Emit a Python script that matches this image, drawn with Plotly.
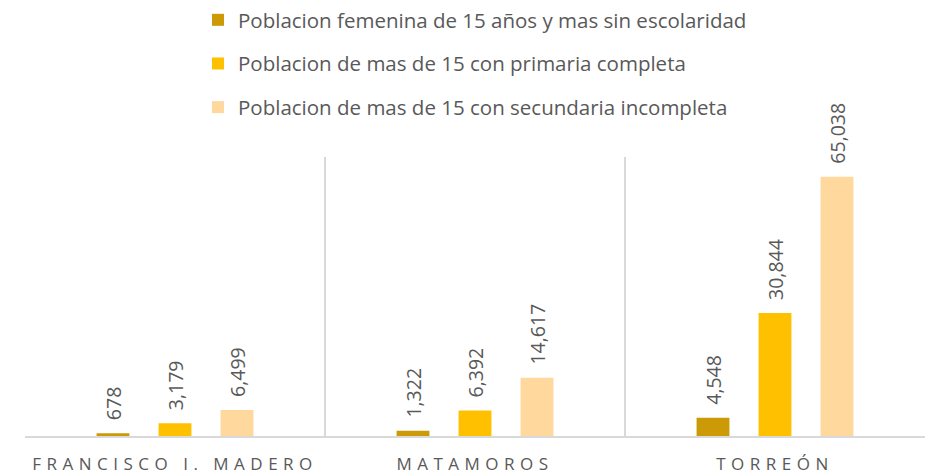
import plotly.graph_objects as go

categories = ["FRANCISCO I. MADERO", "MATAMOROS", "TORREÓN"]
series_names = [
    "Poblacion femenina de 15 años y mas sin escolaridad",
    "Poblacion de mas de 15 con primaria completa",
    "Poblacion de mas de 15 con secundaria incompleta",
]
sin_escolaridad = [678, 1322, 4548]
primaria_completa = [3179, 6392, 30844]
secundaria_incompleta = [6499, 14617, 65038]
colors = ["#CC9A06", "#FFC000", "#FFD89E"]

FONT = "Open Sans"
GREY = "#595959"

fig = go.Figure()
for i, (name, vals) in enumerate(zip(series_names,
                                     [sin_escolaridad, primaria_completa, secundaria_incompleta])):
    fig.add_trace(go.Bar(
        x=categories, y=vals, name=name, legendgroup=f"g{i}",
        marker=dict(color=colors[i], line=dict(width=0)),
        text=[f"{v:,}" for v in vals],
        texttemplate="\u00a0\u00a0%{text}",
        textposition="outside", textangle=-90, constraintext="none",
        cliponaxis=False,
        outsidetextfont=dict(family=FONT, size=19.5, color=GREY),
        hoverinfo="skip",
    ))

fig.update_layout(
    width=928, height=474,
    margin=dict(l=25, r=3, t=157, b=38, autoexpand=False),
    plot_bgcolor="white", paper_bgcolor="white",
    barmode="group", bargap=0.38, bargroupgap=0.47,
    font=dict(family=FONT, color=GREY),
    showlegend=True,
    legend=dict(
        orientation="v", x=0.5, xanchor="center",
        yref="container", y=1.0, yanchor="top",
        font=dict(family=FONT, size=20.5, color=GREY),
        tracegroupgap=14, itemwidth=30,
    ),
    xaxis=dict(
        tickson="boundaries", showgrid=True, gridcolor="#D9D9D9", gridwidth=1.5,
        showline=True, linecolor="#D9D9D9", linewidth=1.5,
        ticks="", tickfont=dict(family=FONT, size=17, color=GREY),
        ticklabelstandoff=12, mirror=False,
    ),
    yaxis=dict(range=[0, 70000], visible=False, showgrid=False, zeroline=False),
)

post = """
document.body.style.margin='0';
document.querySelectorAll('.xtick text').forEach(function(t){t.style.letterSpacing='5.5px';});
"""
fig.write_html("out.html", post_script=post, config={"displayModeBar": False})
